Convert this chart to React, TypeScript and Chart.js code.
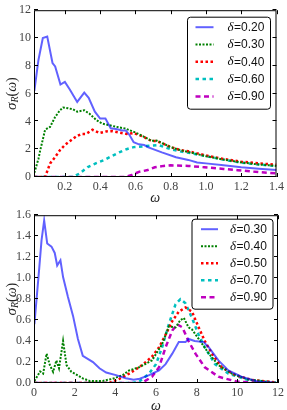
import React, { useEffect, useRef } from "react";
import { Chart, registerables } from "chart.js";

Chart.register(...registerables);

// ---------- data: top panel ----------
const topDeltas = ["0.20", "0.30", "0.40", "0.60", "0.90"];
const topXTicks = [0.2, 0.4, 0.6, 0.8, 1.0, 1.2, 1.4];
const topYTicks = [0, 2, 4, 6, 8, 10, 12];

const topW20 = [0.027, 0.05, 0.075, 0.1, 0.13, 0.145, 0.175, 0.2, 0.228, 0.27, 0.31, 0.335, 0.37, 0.4, 0.43, 0.46, 0.49, 0.525, 0.545, 0.565, 0.59, 0.62, 0.65, 0.67, 0.75, 0.83, 0.9, 0.95, 1.0, 1.1, 1.2, 1.3, 1.4];
const topS20 = [6.2, 8.4, 10.0, 10.1, 8.2, 7.95, 6.65, 6.84, 6.3, 5.4, 6.07, 5.7, 4.7, 4.2, 4.2, 3.5, 3.45, 3.35, 3.35, 3.05, 2.5, 2.35, 2.3, 2.15, 1.77, 1.42, 1.23, 1.05, 0.98, 0.84, 0.7, 0.6, 0.5];

const topW30 = [0.027, 0.05, 0.06, 0.088, 0.116, 0.144, 0.172, 0.19, 0.217, 0.245, 0.27, 0.31, 0.34, 0.378, 0.41, 0.46, 0.51, 0.54, 0.57, 0.6, 0.64, 0.67, 0.69, 0.72, 0.75, 0.8, 0.85, 0.9, 0.95, 1.0, 1.1, 1.2, 1.3, 1.4];
const topS30 = [0.3, 1.3, 1.9, 3.4, 3.6, 4.3, 4.8, 5.0, 4.95, 4.87, 4.7, 4.8, 4.55, 4.1, 3.85, 3.7, 3.56, 3.5, 3.35, 3.2, 2.95, 2.75, 2.6, 2.62, 2.45, 2.15, 1.95, 1.8, 1.65, 1.5, 1.25, 1.05, 0.9, 0.8];

const topW40 = [0.027, 0.088, 0.116, 0.144, 0.172, 0.2, 0.228, 0.266, 0.294, 0.32, 0.357, 0.396, 0.434, 0.47, 0.508, 0.55, 0.59, 0.64, 0.69, 0.72, 0.75, 0.8, 0.85, 0.9, 0.95, 1.0, 1.1, 1.2, 1.3, 1.4];
const topS40 = [0, 0, 0.97, 1.42, 1.93, 2.3, 2.58, 2.93, 3.1, 3.1, 3.4, 3.16, 3.28, 3.3, 3.2, 3.1, 3.16, 2.93, 2.6, 2.58, 2.45, 2.15, 1.95, 1.85, 1.7, 1.55, 1.3, 1.1, 0.98, 0.88];

const topW60 = [0.027, 0.246, 0.284, 0.33, 0.378, 0.424, 0.47, 0.508, 0.55, 0.59, 0.64, 0.68, 0.73, 0.8, 0.85, 0.9, 0.95, 1.0, 1.1, 1.2, 1.3, 1.4];
const topS60 = [0, 0, 0.26, 0.72, 1.0, 1.23, 1.53, 1.77, 2.0, 2.15, 2.2, 2.25, 2.3, 2.0, 1.85, 1.75, 1.62, 1.5, 1.25, 1.03, 0.9, 0.78];

const topW90 = [0.027, 0.54, 0.58, 0.62, 0.67, 0.71, 0.76, 0.8, 0.9, 0.99, 1.1, 1.18, 1.3, 1.4];
const topS90 = [0, 0, 0.15, 0.37, 0.5, 0.7, 0.8, 0.84, 0.8, 0.7, 0.58, 0.49, 0.35, 0.26];

// ---------- data: bottom panel ----------
const botDeltas = ["0.30", "0.40", "0.50", "0.70", "0.90"];
const botXTicks = [0, 2, 4, 6, 8, 10, 12];
const botYTicks = [0, 0.2, 0.4, 0.6, 0.8, 1.0, 1.2, 1.4, 1.6];

const botW30 = [0.02, 0.26, 0.37, 0.5, 0.65, 0.86, 1.02, 1.14, 1.3, 1.43, 1.67, 1.92, 2.16, 2.4, 2.9, 3.22, 3.55, 4.03, 4.52, 4.9, 5.2, 5.66, 6.15, 6.47, 6.8, 7.12, 7.45, 7.6, 7.9, 8.34, 8.6, 9.07, 9.56, 10.2, 11.0, 12];
const botS30 = [0.56, 1.1, 1.36, 1.55, 1.33, 1.3, 1.24, 1.12, 1.17, 1.01, 0.82, 0.64, 0.42, 0.26, 0.2, 0.14, 0.1, 0.075, 0.045, 0.03, 0.04, 0.075, 0.12, 0.18, 0.28, 0.39, 0.39, 0.42, 0.4, 0.39, 0.34, 0.215, 0.12, 0.06, 0.015, 0.0];

const botW40 = [0.02, 0.3, 0.45, 0.62, 0.78, 0.94, 1.1, 1.23, 1.43, 1.6, 1.84, 2.0, 2.4, 2.73, 3.38, 3.87, 4.36, 4.68, 5.17, 5.8, 6.3, 6.63, 6.96, 7.2, 7.37, 7.6, 7.77, 8.1, 8.6, 9.07, 9.73, 10.5, 11.7, 12];
const botS40 = [0.02, 0.11, 0.09, 0.28, 0.17, 0.106, 0.215, 0.14, 0.4, 0.17, 0.106, 0.09, 0.044, 0.02, 0.02, 0.04, 0.075, 0.12, 0.15, 0.215, 0.37, 0.54, 0.53, 0.6, 0.62, 0.53, 0.51, 0.42, 0.28, 0.17, 0.09, 0.035, 0.005, 0.0];

const botW50 = [0.02, 3.7, 4.2, 4.68, 5.17, 5.5, 5.8, 6.15, 6.47, 6.8, 7.12, 7.45, 7.77, 8.1, 8.4, 8.75, 9.23, 9.9, 10.7, 11.9];
const botS50 = [0, 0, 0.04, 0.09, 0.15, 0.2, 0.25, 0.34, 0.46, 0.59, 0.68, 0.72, 0.68, 0.53, 0.4, 0.28, 0.15, 0.075, 0.03, 0.005];

const botW70 = [0.02, 4.8, 5.17, 5.66, 6.0, 6.3, 6.63, 6.96, 7.2, 7.45, 7.77, 8.1, 8.4, 8.9, 9.56, 10.5, 11.9];
const botS70 = [0, 0, 0.012, 0.09, 0.18, 0.34, 0.56, 0.75, 0.8, 0.76, 0.62, 0.46, 0.34, 0.18, 0.09, 0.03, 0.005];

const botW90 = [0.02, 5.3, 5.8, 6.15, 6.47, 6.8, 7.04, 7.3, 7.6, 7.94, 8.4, 9.07, 10.0, 12];
const botS90 = [0, 0, 0.06, 0.15, 0.34, 0.5, 0.56, 0.53, 0.4, 0.28, 0.15, 0.06, 0.012, 0];

// ---------- styles ----------
const STYLES = [
  { color: "rgba(0,0,255,0.62)", dash: [] as number[], width: 2 },
  { color: "#008000", dash: [2, 1.5], width: 2 },
  { color: "#ff0000", dash: [2.5, 2.5], width: 2.5 },
  { color: "#00bfbf", dash: [3.5, 3.5], width: 2.5 },
  { color: "#bf00bf", dash: [5, 3.5], width: 2.5 },
];

const SERIF = "'Liberation Serif', 'DejaVu Serif', serif";
const SANS = "'Liberation Sans', Arial, sans-serif";

function pts(xs: number[], ys: number[]) {
  return xs.map((x, i) => ({ x, y: ys[i] }));
}

const decorPlugin = {
  id: "decor",
  afterDraw(chart: any, _args: any, o: any) {
    const ctx = chart.ctx as CanvasRenderingContext2D;
    const a = chart.chartArea;
    const xs = chart.scales.x;
    const ys = chart.scales.y;
    ctx.save();
    // frame + inward ticks
    ctx.strokeStyle = "#000";
    ctx.lineWidth = 1;
    ctx.setLineDash([]);
    ctx.beginPath();
    for (const t of o.xTicks) {
      const p = Math.round(xs.getPixelForValue(t)) + 0.5;
      ctx.moveTo(p, a.bottom);
      ctx.lineTo(p, a.bottom - 4);
      ctx.moveTo(p, a.top);
      ctx.lineTo(p, a.top + 4);
    }
    for (const t of o.yTicks) {
      const p = Math.round(ys.getPixelForValue(t)) - 0.5;
      ctx.moveTo(a.left, p);
      ctx.lineTo(a.left + 4, p);
      ctx.moveTo(a.right, p);
      ctx.lineTo(a.right - 4, p);
    }
    ctx.stroke();
    ctx.strokeRect(a.left + 0.5, a.top + 0.5, a.right - a.left - 1, a.bottom - a.top - 1);

    // x title
    ctx.fillStyle = "#222";
    ctx.textAlign = "center";
    ctx.textBaseline = "middle";
    ctx.font = `italic 14px ${SERIF}`;
    ctx.fillText("ω", (a.left + a.right) / 2, o.xTitleY);

    // y title: σ_R(ω)
    ctx.save();
    ctx.translate(12, (a.top + a.bottom) / 2);
    ctx.rotate(-Math.PI / 2);
    ctx.textAlign = "left";
    const parts = [
      { t: "σ", f: `italic 15px ${SERIF}`, dy: 0 },
      { t: "R", f: `italic 10px ${SERIF}`, dy: 3 },
      { t: "(", f: `14px ${SERIF}`, dy: 0 },
      { t: "ω", f: `italic 14px ${SERIF}`, dy: 0 },
      { t: ")", f: `14px ${SERIF}`, dy: 0 },
    ];
    let tw = 0;
    for (const p of parts) {
      ctx.font = p.f;
      tw += ctx.measureText(p.t).width;
    }
    let cx = -tw / 2;
    for (const p of parts) {
      ctx.font = p.f;
      ctx.fillText(p.t, cx, p.dy);
      cx += ctx.measureText(p.t).width;
    }
    ctx.restore();

    // legend
    const L = o.legend;
    const bx = a.right - L.dxRight - L.w;
    const by = a.top + L.dyTop;
    ctx.beginPath();
    const r = 3;
    ctx.moveTo(bx + r, by);
    ctx.lineTo(bx + L.w - r, by);
    ctx.arcTo(bx + L.w, by, bx + L.w, by + r, r);
    ctx.lineTo(bx + L.w, by + L.h - r);
    ctx.arcTo(bx + L.w, by + L.h, bx + L.w - r, by + L.h, r);
    ctx.lineTo(bx + r, by + L.h);
    ctx.arcTo(bx, by + L.h, bx, by + L.h - r, r);
    ctx.lineTo(bx, by + r);
    ctx.arcTo(bx, by, bx + r, by, r);
    ctx.closePath();
    ctx.fillStyle = "#fff";
    ctx.fill();
    ctx.strokeStyle = "#000";
    ctx.lineWidth = 1;
    ctx.stroke();

    o.labels.forEach((lab: string, i: number) => {
      const st = STYLES[i];
      const y = by + L.row0 + i * L.rowH;
      ctx.beginPath();
      ctx.strokeStyle = st.color;
      ctx.lineWidth = st.width;
      ctx.setLineDash(st.dash);
      ctx.moveTo(bx + L.s0, y);
      ctx.lineTo(bx + L.s1, y);
      ctx.stroke();
      ctx.setLineDash([]);
      ctx.fillStyle = "#111";
      ctx.textAlign = "left";
      ctx.textBaseline = "middle";
      ctx.font = `italic 13px ${SERIF}`;
      const tx = bx + L.t0;
      ctx.fillText("δ", tx, y);
      const dw = ctx.measureText("δ").width;
      ctx.font = `12px ${SANS}`;
      ctx.fillText("=" + lab, tx + dw + 0.5, y + 0.5);
    });
    ctx.restore();
  },
};

function buildConfig(p: any) {
  const datasets = p.series.map((s: any, i: number) => ({
    label: "δ=" + p.labels[i],
    data: pts(s[0], s[1]),
    borderColor: STYLES[i].color,
    borderWidth: STYLES[i].width,
    borderDash: STYLES[i].dash,
    pointRadius: 0,
    fill: false,
    tension: 0,
    clip: 0,
  }));
  return {
    type: "line",
    data: { datasets },
    plugins: [decorPlugin],
    options: {
      animation: false,
      responsive: false,
      devicePixelRatio: 1,
      layout: { padding: { left: 0, top: p.padTop, right: p.padRight, bottom: 0 } },
      plugins: {
        legend: { display: false },
        tooltip: { enabled: false },
        decor: {
          xTicks: p.xTicks,
          yTicks: p.yTicks,
          labels: p.labels,
          xTitleY: p.xTitleY,
          legend: p.legend,
        },
      },
      scales: {
        x: {
          type: "linear",
          min: p.xMin,
          max: p.xMax,
          grid: { display: false, drawTicks: false },
          border: { display: false },
          afterFit: (s: any) => {
            s.height = p.xHeight;
          },
          afterBuildTicks: (s: any) => {
            s.ticks = p.xTicks.map((v: number) => ({ value: v }));
          },
          ticks: {
            autoSkip: false,
            maxRotation: 0,
            padding: 3,
            color: "#444",
            font: { family: SERIF, size: 12 },
            callback: p.xFmt,
          },
        },
        y: {
          type: "linear",
          min: p.yMin,
          max: p.yMax,
          grid: { display: false, drawTicks: false },
          border: { display: false },
          afterFit: (s: any) => {
            s.width = 34;
          },
          afterBuildTicks: (s: any) => {
            s.ticks = p.yTicks.map((v: number) => ({ value: v }));
          },
          ticks: {
            autoSkip: false,
            padding: 3,
            color: "#444",
            font: { family: SERIF, size: 12 },
            callback: p.yFmt,
          },
        },
      },
    },
  };
}

const topParams = {
  series: [
    [topW20, topS20],
    [topW30, topS30],
    [topW40, topS40],
    [topW60, topS60],
    [topW90, topS90],
  ],
  labels: topDeltas,
  xTicks: topXTicks,
  yTicks: topYTicks,
  xMin: 0.025,
  xMax: 1.4,
  yMin: 0,
  yMax: 12,
  padTop: 5,
  padRight: 8,
  xHeight: 28,
  xTitleY: 198,
  xFmt: (v: any) => Number(v).toFixed(1),
  yFmt: (v: any) => String(Math.round(Number(v))),
  legend: { dxRight: 6, dyTop: 7, w: 83, h: 92, row0: 10, rowH: 17.3, s0: 8, s1: 26, t0: 40 },
};

const botParams = {
  series: [
    [botW30, botS30],
    [botW40, botS40],
    [botW50, botS50],
    [botW70, botS70],
    [botW90, botS90],
  ],
  labels: botDeltas,
  xTicks: botXTicks,
  yTicks: botYTicks,
  xMin: 0,
  xMax: 12,
  yMin: 0,
  yMax: 1.6,
  padTop: 7,
  padRight: 7,
  xHeight: 27,
  xTitleY: 201,
  xFmt: (v: any) => String(Math.round(Number(v))),
  yFmt: (v: any) => Number(v).toFixed(1),
  legend: { dxRight: 5, dyTop: 4, w: 81, h: 90, row0: 10, rowH: 17, s0: 9, s1: 26, t0: 38 },
};

function Panel({ params, top }: { params: any; top: number }) {
  const ref = useRef<HTMLCanvasElement | null>(null);
  useEffect(() => {
    if (!ref.current) return;
    const chart = new Chart(ref.current, buildConfig(params) as any);
    return () => chart.destroy();
  }, [params]);
  return (
    <canvas
      ref={ref}
      width={287}
      height={205}
      style={{ position: "absolute", left: 0, top, width: 287, height: 205, display: "block" }}
    />
  );
}

export default function App() {
  return (
    <div style={{ position: "absolute", left: 0, top: 0, width: 287, height: 410, background: "#fff" }}>
      <Panel params={topParams} top={0} />
      <Panel params={botParams} top={205} />
    </div>
  );
}
